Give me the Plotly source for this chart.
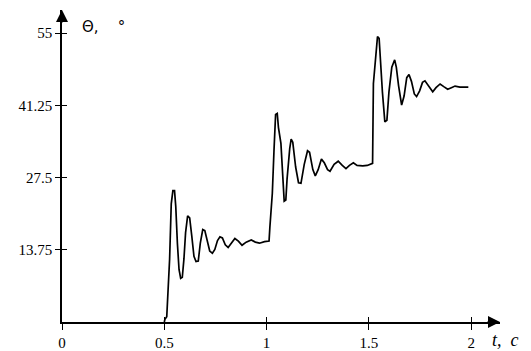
import plotly.graph_objects as go

# time, s
t = [0.500, 0.503, 0.512, 0.518, 0.526, 0.534, 0.542, 0.550, 0.556, 0.564, 0.572, 0.580, 0.588,
     0.596, 0.604, 0.614, 0.624, 0.634, 0.645, 0.655, 0.666, 0.676, 0.688, 0.698, 0.710, 0.722,
     0.735, 0.747, 0.760, 0.772, 0.784, 0.798, 0.812, 0.828, 0.845, 0.862, 0.880, 0.900, 0.925,
     0.945, 0.965, 0.990, 1.012,
     1.016, 1.028, 1.036, 1.044, 1.052, 1.058, 1.070, 1.079, 1.086, 1.094, 1.100, 1.113, 1.120,
     1.128, 1.142, 1.156, 1.168, 1.184, 1.200, 1.210, 1.226, 1.238, 1.252, 1.268, 1.282, 1.298,
     1.310, 1.330, 1.350, 1.370, 1.388, 1.405, 1.424, 1.442, 1.470, 1.492, 1.506, 1.518,
     1.522, 1.534, 1.542, 1.550, 1.556, 1.566, 1.578, 1.588, 1.598, 1.612, 1.626, 1.634, 1.645,
     1.660, 1.672, 1.685, 1.696, 1.708, 1.722, 1.733, 1.748, 1.762, 1.774, 1.790, 1.805, 1.812,
     1.828, 1.848, 1.866, 1.885, 1.903, 1.921, 1.945, 1.965, 1.986]

# angle Theta, degrees
theta = [0.0, 0.5, 1.0, 5.0, 12.0, 22.5, 25.0, 25.0, 22.0, 15.0, 10.0, 8.3, 8.5,
         12.0, 17.0, 20.2, 19.8, 16.5, 12.5, 11.5, 11.6, 15.0, 17.6, 17.4, 15.5, 13.5,
         13.1, 13.8, 15.5, 16.2, 16.0, 14.7, 14.2, 15.0, 15.9, 15.4, 14.6, 15.2, 15.6,
         15.2, 15.0, 15.3, 15.4,
         18.0, 24.5, 32.5, 39.5, 39.7, 37.0, 34.0, 27.7, 23.0, 23.2, 27.2, 33.0, 34.8,
         34.2, 29.5, 26.5, 26.4, 30.0, 32.6, 32.3, 29.0, 27.8, 29.0, 31.0, 30.3, 29.0,
         28.7, 30.0, 30.6, 29.8, 29.2, 29.8, 30.3, 29.8, 29.7, 29.8, 30.1, 30.2,
         45.4, 51.3, 54.3, 54.0, 49.4, 43.8, 38.1, 38.4, 43.8, 48.5, 49.9, 48.5, 45.0,
         41.3, 43.0, 46.5, 47.1, 45.8, 43.4, 42.9, 44.0, 45.6, 45.9, 45.0, 44.0, 43.8,
         44.6, 45.3, 44.8, 44.3, 44.6, 44.9, 44.7, 44.7, 44.7]

x_ticks = [0, 0.5, 1, 1.5, 2]
x_tick_labels = ["0", "0.5", "1", "1.5", "2"]
y_ticks = [13.75, 27.5, 41.25, 55]
y_tick_labels = ["13.75", "27.5", "41.25", "55"]

X_MAX = 2.1408
Y_MAX = 59.38
FONT = "Liberation Serif, Times New Roman, serif"

fig = go.Figure()
fig.add_trace(go.Scatter(x=t, y=theta, mode="lines",
                         line=dict(color="black", width=1.7), showlegend=False,
                         hoverinfo="skip"))
# helper trace so overlay axes (inside ticks) are drawn
fig.add_trace(go.Scatter(x=[None], y=[None], xaxis="x2", yaxis="y2",
                         mode="lines", showlegend=False, hoverinfo="skip"))

common_axis = dict(showgrid=False, zeroline=False, color="black", automargin=False)
fig.update_layout(
    width=523, height=343,
    margin=dict(l=54, r=31, t=2, b=29, autoexpand=False),
    showlegend=False,
    paper_bgcolor="white", plot_bgcolor="white",
    font=dict(family=FONT, size=15, color="black"),
    xaxis=dict(range=[0, X_MAX], tickvals=x_ticks, ticktext=x_tick_labels,
               ticks="outside", ticklen=6, tickwidth=1, tickcolor="black",
               showline=True, linecolor="black", linewidth=1.5,
               tickfont=dict(family=FONT, size=15, color="black"), **common_axis),
    yaxis=dict(range=[0, Y_MAX], tickvals=y_ticks, ticktext=y_tick_labels,
               ticks="outside", ticklen=5, tickwidth=1, tickcolor="black",
               showline=True, linecolor="black", linewidth=1.5,
               tickfont=dict(family=FONT, size=15, color="black"), **common_axis),
    xaxis2=dict(range=[0, X_MAX], overlaying="x", side="bottom", tickvals=x_ticks,
                ticks="inside", ticklen=5, tickwidth=1, tickcolor="black",
                showticklabels=False, showline=False, **common_axis),
    yaxis2=dict(range=[0, Y_MAX], overlaying="y", side="left", tickvals=y_ticks,
                ticks="inside", ticklen=5, tickwidth=1, tickcolor="black",
                showticklabels=False, showline=False, **common_axis),
)

# axis arrowheads
fig.add_annotation(xref="paper", yref="paper", x=1, y=0, ax=-14, ay=0, text="",
                   showarrow=True, arrowhead=2, arrowsize=1.6, arrowwidth=1.5,
                   arrowcolor="black")
fig.add_annotation(xref="paper", yref="paper", x=0, y=1, ax=0, ay=14, text="",
                   showarrow=True, arrowhead=2, arrowsize=1.6, arrowwidth=1.5,
                   arrowcolor="black")

# axis titles
fig.add_annotation(xref="paper", yref="paper", x=0.042, y=0.945, text="Θ,&nbsp;&nbsp;&nbsp;&nbsp;°",
                   showarrow=False, xanchor="left", yanchor="middle",
                   font=dict(family="DejaVu Sans", size=15, color="black"))
fig.add_annotation(xref="paper", yref="paper", x=0.978, y=-0.058,
                   text="<i>t,&nbsp;&nbsp;c</i>",
                   showarrow=False, xanchor="left", yanchor="middle",
                   font=dict(family=FONT, size=18, color="black"))

fig.write_html("out.html")
